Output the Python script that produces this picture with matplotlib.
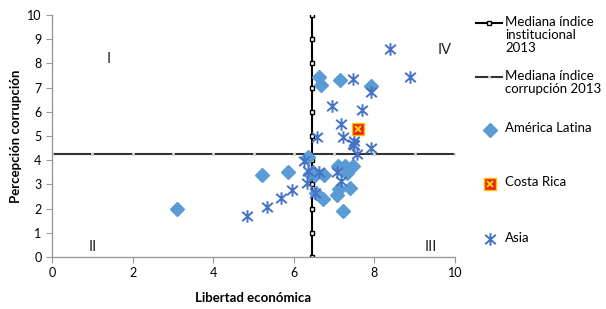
import matplotlib
matplotlib.use("Agg")
import matplotlib.pyplot as plt
from matplotlib.path import Path
from matplotlib.lines import Line2D
import numpy as np

plt.rcParams['font.family'] = ['Lato', 'DejaVu Sans']

# Data
latam_x = [3.1, 5.2, 5.86, 6.36, 6.4, 6.53, 6.75, 6.73, 6.63, 6.67, 7.15, 7.92,
           7.09, 7.27, 7.48, 7.33, 7.11, 7.06, 7.39, 7.21, 6.55, 6.48]
latam_y = [2.0, 3.4, 3.5, 4.15, 3.45, 3.38, 3.38, 2.38, 7.45, 7.1, 7.3, 7.07,
           3.76, 3.76, 3.78, 3.47, 2.8, 2.55, 2.86, 1.9, 2.65, 3.5]
cr_x = [7.6]
cr_y = [5.27]
asia_x = [8.38, 8.88, 7.48, 7.91, 6.96, 7.69, 7.18, 6.57, 7.21, 7.49, 7.49, 7.91, 7.58,
          4.85, 5.33, 5.67, 5.96, 6.32, 6.26, 6.36, 6.52, 6.62, 7.08, 7.18, 7.48]
asia_y = [8.59, 7.45, 7.34, 6.83, 6.23, 6.09, 5.49, 4.96, 4.96, 4.79, 4.61, 4.52, 4.24,
          1.7, 2.05, 2.45, 2.78, 3.07, 3.98, 3.57, 2.65, 3.5, 3.5, 3.12, 4.68]
med_inst = 6.45
med_corr = 4.26
grid_vals = list(range(0, 11))

quad_labels = ['I', 'II', 'III', 'IV']
quad_x = [1.4, 1.0, 9.4, 9.75]
quad_y = [7.9, 0.12, 0.12, 8.25]

BLUE_D = '#5B9BD5'
BLUE_S = '#4472C4'

star = Path([(0, -1), (0, 1), (-0.85, -0.75), (0.85, 0.75), (-0.85, 0.75), (0.85, -0.75)],
            [Path.MOVETO, Path.LINETO, Path.MOVETO, Path.LINETO, Path.MOVETO, Path.LINETO])

W, H = 606, 309
fig = plt.figure(figsize=(W/100, H/100), dpi=100)
ax = fig.add_axes([52/W, (H-257)/H, (455-52)/W, (257-15)/H])
ax.set_xlim(0, 10)
ax.set_ylim(0, 10)

# median lines
ax.plot([med_inst]*len(grid_vals), grid_vals, color='black', lw=1.5, marker='s', ms=3.5,
        mfc='white', mec='black', mew=1.0, zorder=2)
ax.plot(grid_vals, [med_corr]*len(grid_vals), color='#333333', lw=1.5, marker='s', ms=2,
        mfc='#dddddd', mec='#cccccc', mew=0.6, zorder=2)

ax.plot(latam_x, latam_y, ls='none', marker='D', ms=6.8, mfc=BLUE_D, mec=BLUE_D, zorder=3)
ax.plot(asia_x, asia_y, ls='none', marker=star, ms=9, mfc='none', mec=BLUE_S, mew=1.4, zorder=4)
ax.plot(cr_x, cr_y, ls='none', marker='s', ms=8, mfc='#E8231A', mec='#FFC000', mew=1.0, zorder=5)
ax.plot(cr_x, cr_y, ls='none', marker='x', ms=5, mec='#FFD400', mew=1.4, zorder=6)

for t, x, y in zip(quad_labels, quad_x, quad_y):
    ax.text(x, y, t, fontsize=10.5, ha='center', va='bottom', color='#222222')

ax.set_xticks([0, 2, 4, 6, 8, 10])
ax.set_yticks(grid_vals)
for s in ['top', 'right']:
    ax.spines[s].set_visible(False)
for s in ['left', 'bottom']:
    ax.spines[s].set_color('#999999')
    ax.spines[s].set_linewidth(1.0)
ax.tick_params(axis='both', colors='#999999', labelcolor='black', labelsize=9, length=4, width=0.8)
ax.set_xlabel('Libertad económica', fontsize=9.5, fontweight='bold', labelpad=9)
ax.set_ylabel('Percepción corrupción', fontsize=9.5, fontweight='bold', labelpad=4)

# legend (manual, pixel coordinates)
lax = fig.add_axes([0, 0, 1, 1], facecolor='none')
lax.set_xlim(0, W)
lax.set_ylim(H, 0)
lax.axis('off')
entries = [
    (23, 'Mediana índice\ninstitucional\n2013', 'inst'),
    (77, 'Mediana índice\ncorrupción 2013', 'corr'),
    (130, 'América Latina', 'latam'),
    (184, 'Costa Rica', 'cr'),
    (239, 'Asia', 'asia'),
]
for yy, lab, kind in entries:
    if kind == 'inst':
        lax.add_line(Line2D([476, 502], [yy, yy], color='black', lw=1.5))
        lax.add_line(Line2D([489], [yy], marker='s', ms=3.5, mfc='white', mec='black', mew=1.0))
    elif kind == 'corr':
        lax.add_line(Line2D([476, 502], [yy, yy], color='#333333', lw=1.5))
        lax.add_line(Line2D([489], [yy], marker='s', ms=2, mfc='#dddddd', mec='#cccccc', mew=0.6))
    elif kind == 'latam':
        lax.add_line(Line2D([490], [yy], marker='D', ms=6.8, mfc=BLUE_D, mec=BLUE_D))
    elif kind == 'cr':
        lax.add_line(Line2D([490], [yy], marker='s', ms=8, mfc='#E8231A', mec='#FFC000', mew=1.0))
        lax.add_line(Line2D([490], [yy], marker='x', ms=5, mec='#FFD400', mew=1.4))
    else:
        lax.add_line(Line2D([490], [yy], marker=star, ms=9, mfc='none', mec=BLUE_S, mew=1.4))
    lax.text(505, yy - 7.5, lab, fontsize=9.5, ha='left', va='top', linespacing=1.15, color='black')

fig.savefig('out.png', dpi=100)
